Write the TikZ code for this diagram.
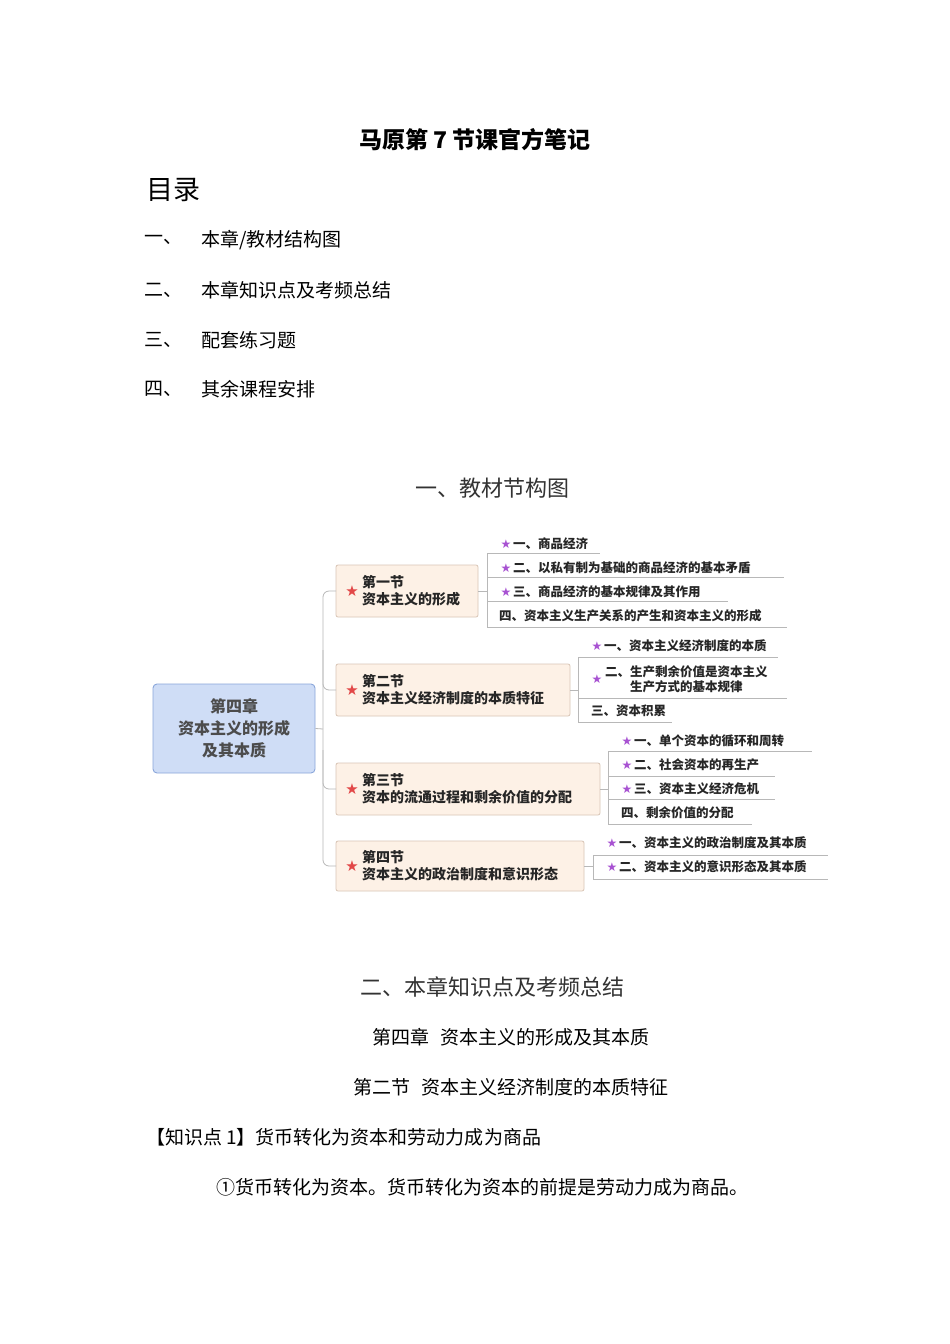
\documentclass[tikz,border=0pt]{standalone}
\usepackage{fontspec}
\setmainfont{Noto Sans CJK SC}
\newfontfamily\starfont{DejaVu Sans}
\definecolor{rootfill}{HTML}{CFDDF6}
\definecolor{rootdraw}{HTML}{8AA6DA}
\definecolor{secfill}{HTML}{FDF1E6}
\definecolor{secdraw}{HTML}{D9C5B6}
\definecolor{linec}{HTML}{B8B8B8}
\definecolor{pstar}{HTML}{A852D2}
\definecolor{rstar}{HTML}{E24848}
\begin{document}
\begin{tikzpicture}[x=1pt,y=-1pt,
  plain/.style={inner sep=0pt,font=\fontsize{19}{22}\selectfont},
  head/.style={inner sep=0pt,font=\fontsize{22}{26}\selectfont,text=black!80},
  secbox/.style={draw=secdraw,fill=secfill,rounded corners=2pt,line width=0.8pt},
  sectext/.style={inner sep=0pt,anchor=west,align=left,font=\bfseries\fontsize{14}{17}\selectfont,text=black!85},
  leaf/.style={inner sep=0pt,anchor=west,font=\bfseries\fontsize{12.5}{15}\selectfont,text=black!85},
  conn/.style={draw=linec,line width=0.8pt},
  ps/.style={inner sep=0pt,text=pstar,font=\starfont\fontsize{12}{12}\selectfont},
  rs/.style={inner sep=0pt,text=rstar,font=\starfont\fontsize{15}{15}\selectfont}]
\useasboundingbox (0,0) rectangle (950,1344);
\fill[white] (0,0) rectangle (950,1344);
% title and contents
\node[plain,font=\bfseries\fontsize{23}{26}\selectfont] (title) at (475,140) {马原第 7 节课官方笔记};
\node[plain,anchor=west,font=\fontsize{27}{30}\selectfont] (mulu) at (146,190) {目录};
\foreach \n/\k/\t/\y in {a/一、/{本章/教材结构图}/240, b/二、/本章知识点及考频总结/290, c/三、/配套练习题/340, d/四、/其余课程安排/389}{
  \node[plain,anchor=west] (k\n) at (144,\y) {\k};
  \node[plain,anchor=west] (t\n) at (201,\y) {\t};
}
\node[head] (h1) at (492,488) {一、教材节构图};
% root
\node[draw=rootdraw,fill=rootfill,rounded corners=4pt,line width=0.9pt,minimum width=162pt,minimum height=89pt,align=center,font=\bfseries\fontsize{16}{22}\selectfont,text=black!70] (root) at (234,728.5) {第四章\\资本主义的形成\\及其本质};
% section boxes
\path[secbox] (336,565) rectangle (478,617);
\path[secbox] (336,664) rectangle (570,716);
\path[secbox] (336,763) rectangle (600,815);
\path[secbox] (336,841) rectangle (584,891);
\coordinate (s1) at (336,591); \coordinate (s1r) at (478,591);
\coordinate (s2) at (336,690); \coordinate (s2r) at (570,690);
\coordinate (s3) at (336,789); \coordinate (s3r) at (600,789);
\coordinate (s4) at (336,866); \coordinate (s4r) at (584,866);
\node[rs] (r1) at (352,591) {★};
\node[rs] (r2) at (352,690) {★};
\node[rs] (r3) at (352,789) {★};
\node[rs] (r4) at (352,866) {★};
\node[sectext] (t1) at (362,591) {第一节\\资本主义的形成};
\node[sectext] (t2) at (362,690) {第二节\\资本主义经济制度的本质特征};
\node[sectext] (t3) at (362,789) {第三节\\资本的流通过程和剩余价值的分配};
\node[sectext] (t4) at (362,866) {第四节\\资本主义的政治制度和意识形态};
% trunk
\coordinate (j) at (323,729);
\draw[conn] (root.east) -- (j);
\draw[conn,rounded corners=6pt] (s1) -- (323,591) -- (323,866) -- (s4);
\draw[conn,rounded corners=6pt] (323,650) |- (s2);
\draw[conn,rounded corners=6pt] (323,750) |- (s3);
% leaves group 1
\draw[conn] (s1r) -- (487,591);
\draw[conn] (487,553) -- (487,627);
\draw[conn] (487,553) -- (600,553);
\draw[conn] (487,577) -- (784,577);
\draw[conn] (487,601) -- (728,601);
\draw[conn] (487,627) -- (787,627);
\node[ps] (p11) at (506,544) {★}; \node[leaf] (l11) at (513,544) {一、商品经济};
\node[ps] (p12) at (506,568) {★}; \node[leaf] (l12) at (513,568) {二、以私有制为基础的商品经济的基本矛盾};
\node[ps] (p13) at (506,592) {★}; \node[leaf] (l13) at (513,592) {三、商品经济的基本规律及其作用};
\node[leaf] (l14) at (499,616) {四、资本主义生产关系的产生和资本主义的形成};
% leaves group 2
\draw[conn] (s2r) -- (578,690);
\draw[conn] (578,657) -- (578,722);
\draw[conn] (578,657) -- (778,657);
\draw[conn] (578,698) -- (787,698);
\draw[conn] (578,722) -- (672,722);
\node[ps] (p21) at (597,646) {★}; \node[leaf] (l21) at (604,646) {一、资本主义经济制度的本质};
\node[ps] (p22) at (597,679) {★}; \node[leaf,align=center] (l22) at (605,679) {二、生产剩余价值是资本主义\\生产方式的基本规律};
\node[leaf] (l23) at (591,711) {三、资本积累};
% leaves group 3
\draw[conn] (s3r) -- (608,789);
\draw[conn] (608,751) -- (608,824);
\draw[conn] (608,751) -- (812,751);
\draw[conn] (608,776) -- (775,776);
\draw[conn] (608,799) -- (775,799);
\draw[conn] (608,824) -- (752,824);
\node[ps] (p31) at (627,741) {★}; \node[leaf] (l31) at (634,741) {一、单个资本的循环和周转};
\node[ps] (p32) at (627,765) {★}; \node[leaf] (l32) at (634,765) {二、社会资本的再生产};
\node[ps] (p33) at (627,789) {★}; \node[leaf] (l33) at (634,789) {三、资本主义经济危机};
\node[leaf] (l34) at (621,813) {四、剩余价值的分配};
% leaves group 4
\draw[conn] (s4r) -- (593,866);
\draw[conn] (593,855) -- (593,879);
\draw[conn] (593,855) -- (828,855);
\draw[conn] (593,879) -- (828,879);
\node[ps] (p41) at (612,843) {★}; \node[leaf] (l41) at (619,843) {一、资本主义的政治制度及其本质};
\node[ps] (p42) at (612,867) {★}; \node[leaf] (l42) at (619,867) {二、资本主义的意识形态及其本质};
% lower text
\node[head] (h2) at (492,987) {二、本章知识点及考频总结};
\node[plain] (c4) at (511,1037) {第四章\hspace{0.6em}资本主义的形成及其本质};
\node[plain] (c2) at (511,1087) {第二节\hspace{0.6em}资本主义经济制度的本质特征};
\node[plain,anchor=west] (kp) at (146,1137) {【知识点 1】货币转化为资本和劳动力成为商品};
\node[plain,anchor=west] (p1) at (216,1187) {①货币转化为资本。货币转化为资本的前提是劳动力成为商品。};
\end{tikzpicture}
\end{document}
